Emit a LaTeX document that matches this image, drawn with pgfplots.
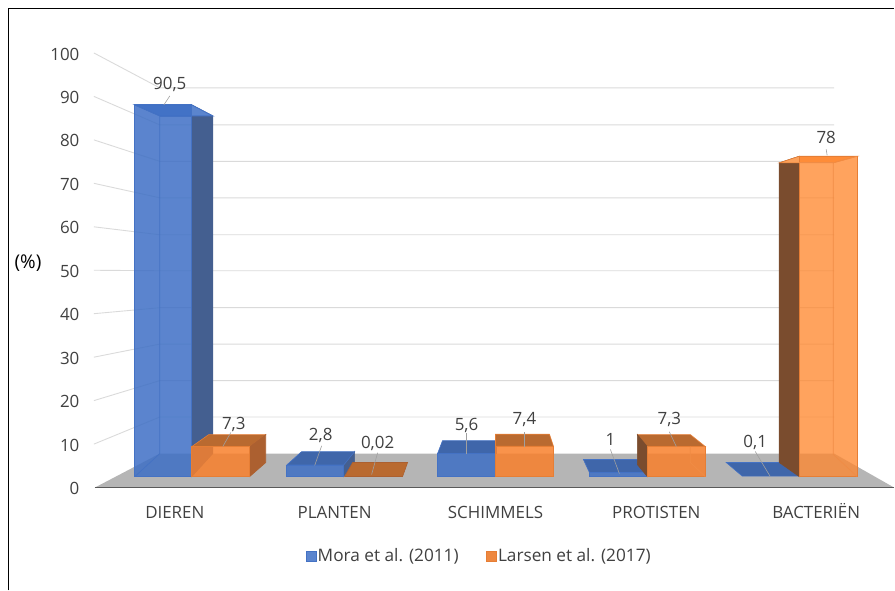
\documentclass[border=0pt]{standalone}
\usepackage{pgfplots}
\usepackage{fontspec}
\pgfplotsset{compat=1.18}
\setmainfont{Open Sans}

\definecolor{inkgray}{HTML}{404040}
\definecolor{gridgray}{HTML}{DADADA}
\definecolor{floorgray}{HTML}{B5B5B5}
\definecolor{axisgray}{HTML}{595959}
\definecolor{leader}{HTML}{A0A0A0}
\definecolor{blueface}{HTML}{5B85CE}
\definecolor{bluealpha}{HTML}{3E6FC5}
\definecolor{blueedge}{HTML}{4472C4}
\definecolor{bluetop}{HTML}{3F66AA}
\definecolor{blueside}{HTML}{445F90}
\definecolor{orangeface}{HTML}{EE8840}
\definecolor{orangealpha}{HTML}{F8802B}
\definecolor{orangeedge}{HTML}{E67E35}
\definecolor{orangetop}{HTML}{B96A30}
\definecolor{orangeside}{HTML}{AC6030}
\definecolor{orangedark}{HTML}{7A4C2E}
\definecolor{orangelight}{HTML}{FBA05A}
\definecolor{orangetall}{HTML}{FF872E}
\definecolor{orangeinner}{HTML}{F08C45}

\pgfplotsset{
  grid wall/.style={draw=gridgray,line width=0.9bp,forget plot},
  blue front/.style={fill=bluealpha,fill opacity=0.85,draw=blueedge,line width=0.9bp,forget plot},
  blue top/.style={fill=bluetop,draw=blueedge,line width=0.6bp,forget plot},
  blue side/.style={fill=blueside,draw=blueside,line width=0.6bp,forget plot},
  orange front/.style={fill=orangealpha,fill opacity=0.85,draw=orangeedge,line width=0.9bp,forget plot},
  orange top/.style={fill=orangetop,draw=orangeedge,line width=0.6bp,forget plot},
  orange side/.style={fill=orangeside,draw=orangeside,line width=0.6bp,forget plot},
  orange dark/.style={fill=orangedark,draw=orangedark,line width=0.6bp,forget plot},
  inner blue/.style={draw=blueedge,line width=0.7bp,forget plot},
  inner orange/.style={draw=orangeinner,line width=0.7bp,forget plot},
  leader line/.style={draw=leader,line width=0.6bp,forget plot},
}

\begin{document}
\begin{tikzpicture}
\begin{axis}[
  x=1bp,y=4.11bp,
  xmin=94,xmax=895,ymin=-2.68,ymax=103.16,
  clip=false,
  axis line style={draw=none},
  major tick length=0pt,
  xtick={175,335,496,657,817},
  xticklabels={DIEREN,PLANTEN,SCHIMMELS,PROTISTEN,BACTERIËN},
  ytick={-2.68,7.90,18.49,29.07,39.66,50.24,60.82,71.41,81.99,92.58,103.16},
  yticklabels={0,10,20,30,40,50,60,70,80,90,100},
  tick label style={font=\fontsize{17}{20}\selectfont,text=inkgray},
  xticklabel style={yshift=-14bp,text height=13bp,text depth=0pt},
  yticklabel style={xshift=-11bp,yshift=-1bp},
  ylabel={(\%)},
  ylabel style={at={(axis description cs:-0.0824,0.5218)},anchor=center,rotate=-90,yshift=-2bp,
    font=\fontsize{19}{22}\selectfont,text=black},
  legend columns=2,
  legend style={at={(axis description cs:0.4813,-0.1575)},anchor=center,draw=none,fill=none,
    font=\fontsize{17.3}{20}\selectfont,text=inkgray,
    /tikz/every even column/.append style={column sep=26bp},
    nodes={inner sep=1.5bp}},
  legend image code/.code={\filldraw[#1] (0bp,-5bp) rectangle (10bp,5bp);},
]
\addlegendimage{fill=blueface,draw=blueedge}
\addlegendentry{Mora et al. (2011)}
\addlegendimage{fill=orangeface,draw=orangeedge}
\addlegendentry{Larsen et al. (2017)}

% frame and page extent
\path (axis cs:0,-27.74) rectangle (axis cs:895,116.06);
\draw[black,line width=1bp] (axis cs:8.5,-27.74) -- (axis cs:8.5,114.0) -- (axis cs:895,114.0);

% floor
\addplot[fill=floorgray,draw=none,forget plot] coordinates {(95,-2.68)(160,5.60)(835,5.60)(895,-2.68)} --cycle;

% side wall and back wall grid lines
\addplot[grid wall] coordinates {(94,7.90)(160,14.50)(835,14.50)};
\addplot[grid wall] coordinates {(94,18.49)(160,23.36)(835,23.36)};
\addplot[grid wall] coordinates {(94,29.07)(160,32.26)(835,32.26)};
\addplot[grid wall] coordinates {(94,39.66)(160,41.12)(835,41.12)};
\addplot[grid wall] coordinates {(94,50.24)(160,50.12)(835,50.12)};
\addplot[grid wall] coordinates {(94,60.82)(160,58.88)(835,58.88)};
\addplot[grid wall] coordinates {(94,71.41)(160,67.88)(835,67.88)};
\addplot[grid wall] coordinates {(94,81.99)(160,76.76)(835,76.76)};
\addplot[grid wall] coordinates {(94,92.58)(160,85.64)(835,85.64)};
\addplot[grid wall] coordinates {(94,103.16)(160,94.65)(835,94.65)};
\addplot[draw=axisgray,line width=1.8bp,forget plot] coordinates {(95,-2.68)(895,-2.68)};

% DIEREN, Mora: 90.5
\addplot[blue side] coordinates {(192,0)(213,5.60)(213,87.83)(192,90.5)} --cycle;
\addplot[fill=blueface,draw=blueedge,line width=0.9bp,forget plot] coordinates {(135,90.5)(192,90.5)(213,87.83)(160,87.83)} --cycle;
\addplot[blue front] coordinates {(135,0)(192,0)(192,90.5)(135,90.5)} --cycle;
\addplot[inner blue] coordinates {(135,90.5)(160,87.83)(160,5.60)(135,0)};
\addplot[inner blue] coordinates {(160,87.83)(192,87.83)};

% DIEREN, Larsen: 7.3
\addplot[orange top] coordinates {(192,7.3)(209,10.22)(266,10.22)(250,7.3)} --cycle;
\addplot[orange side] coordinates {(250,0)(266,3.41)(266,10.22)(250,7.3)} --cycle;
\addplot[orange front] coordinates {(192,0)(250,0)(250,7.3)(192,7.3)} --cycle;

% PLANTEN, Mora: 2.8
\addplot[blue side] coordinates {(344,0)(355,3.41)(355,6.08)(344,2.8)} --cycle;
\addplot[blue top] coordinates {(287,2.8)(302,6.08)(355,6.08)(344,2.8)} --cycle;
\addplot[blue front] coordinates {(287,0)(344,0)(344,2.8)(287,2.8)} --cycle;

% PLANTEN, Larsen: 0.02
\addplot[orange top,draw=orangeside] coordinates {(345,0.02)(353,3.41)(408,3.41)(403,0.02)} --cycle;

% SCHIMMELS, Mora: 5.6
\addplot[blue top] coordinates {(438,5.6)(443,8.76)(497,8.76)(497,5.6)} --cycle;
\addplot[blue front] coordinates {(438,0)(496,0)(496,5.6)(438,5.6)} --cycle;

% SCHIMMELS, Larsen: 7.4
\addplot[orange top] coordinates {(496,7.4)(496,10.3)(550,10.3)(554,7.4)} --cycle;
\addplot[orange front] coordinates {(496,0)(554,0)(554,7.4)(496,7.4)} --cycle;

% PROTISTEN, Mora: 1
\addplot[blue top] coordinates {(590,1)(584,4.14)(638,4.14)(648,1)} --cycle;
\addplot[blue front] coordinates {(590,0)(648,0)(648,1)(590,1)} --cycle;

% PROTISTEN, Larsen: 7.3
\addplot[orange top] coordinates {(648,7.3)(638,10.22)(691,10.22)(706,7.3)} --cycle;
\addplot[orange dark] coordinates {(638,2.92)(648,0)(648,7.3)(638,10.22)} --cycle;
\addplot[orange front] coordinates {(648,0)(706,0)(706,7.3)(648,7.3)} --cycle;
\addplot[inner orange] coordinates {(691,7.3)(691,3.41)(706,0)};

% BACTERIËN, Mora: 0.1
\addplot[blue top] coordinates {(743,0.1)(727,3.41)(780,3.41)(800,0.1)} --cycle;

% BACTERIËN, Larsen: 78
\addplot[orange dark] coordinates {(780,3.41)(800,0)(800,78)(780,76.4)} --cycle;
\addplot[fill=orangelight,draw=orangeedge,line width=0.6bp,forget plot] coordinates {(780,76.4)(800,78)(858,78)(834,76.4)} --cycle;
\addplot[fill=orangetall,fill opacity=0.77,draw=orangeedge,line width=0.9bp,forget plot] coordinates {(800,0)(858,0)(858,78)(800,78)} --cycle;
\addplot[inner orange] coordinates {(858,78)(834,76.4)(834,5.4)(858,0)};
\addplot[inner orange] coordinates {(800,76.4)(834,76.4)};

% leader lines from value labels to bars
\addplot[leader line] coordinates {(164,90.5)(170,92.7)};
\addplot[leader line] coordinates {(223,7.3)(231,10.7)};
\addplot[leader line] coordinates {(315,2.7)(322,7.5)};
\addplot[leader line] coordinates {(372,0.5)(378,5.8)};
\addplot[leader line] coordinates {(467,5.4)(467,10.7)};
\addplot[leader line] coordinates {(525,7.3)(525,10.9)};
\addplot[leader line] coordinates {(620,0.7)(611,6.6)};
\addplot[leader line] coordinates {(677,7.3)(670,10.9)};
\addplot[leader line] coordinates {(771,0)(756,6.1)};
\addplot[leader line] coordinates {(828,78.2)(827,79.7)};

% value labels
\begin{scope}[every node/.style={font=\fontsize{17}{20}\selectfont,text=inkgray,anchor=center}]
\node at (axis cs:170,95.6) {90,5};
\node at (axis cs:234,12.8) {7,3};
\node at (axis cs:321,9.9) {2,8};
\node at (axis cs:378,8.0) {0,02};
\node at (axis cs:467,12.4) {5,6};
\node at (axis cs:525,13.9) {7,4};
\node at (axis cs:611,9.0) {1};
\node at (axis cs:670,13.9) {7,3};
\node at (axis cs:756,8.3) {0,1};
\node at (axis cs:827,82.7) {78};
\end{scope}
\end{axis}
\end{tikzpicture}
\end{document}
